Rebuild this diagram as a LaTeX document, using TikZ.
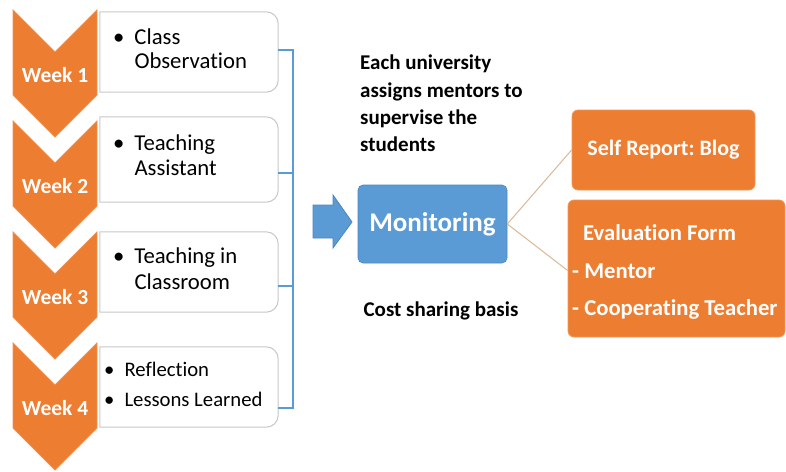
\documentclass[tikz,border=0pt]{standalone}
\usepackage{fontspec}
\setmainfont[Ligatures=NoCommon]{Carlito}
\frenchspacing
\usetikzlibrary{calc}
\definecolor{orng}{HTML}{ED7D31}
\definecolor{blu}{HTML}{5B9BD5}
\definecolor{bluedge}{HTML}{4A86BE}
\definecolor{tan}{HTML}{D9B896}
\definecolor{boxedge}{HTML}{C8C8C8}
\tikzset{
  chev/.style={fill=orng, draw=orng!85!white, line width=0.8pt},
  weektxt/.style={text=white, font=\fontsize{21.5}{24}\selectfont\bfseries, inner sep=0pt},
  boxarea/.style={minimum width=178pt, minimum height=80pt, inner sep=0pt, draw=none},
  boxline/.style={draw=boxedge, line width=1pt, fill=white},
  itemtxt/.style={anchor=west, inner sep=0pt, align=left},
  bracket/.style={draw=blu, line width=1.2pt},
  note/.style={font=\fontsize{21}{27.3}\selectfont\bfseries, inner sep=0pt, align=left},
  monbox/.style={fill=blu, draw=bluedge, line width=0.6pt, rounded corners=5pt, minimum width=149pt, minimum height=78pt, text=white, font=\fontsize{27}{30}\selectfont\bfseries},
  orbox/.style={fill=orng, draw=orng!80!white, line width=0.8pt, rounded corners=6pt, text=white, font=\fontsize{22.5}{37}\selectfont\bfseries, inner sep=0pt},
  tanline/.style={draw=tan, line width=1pt}
}
\begin{document}
\begin{tikzpicture}[x=1pt,y=-1pt]
\useasboundingbox (0,0) rectangle (786,471);
% chevrons
\foreach \t/\n in {10/1,121/2,232/3,343/4}{
  \draw[chev] (13,\t) -- (55,\t+42) -- (97,\t) -- (97,\t+85) -- (55,\t+127) -- (13,\t+85) -- cycle;
  \node[weektxt] (w\n) at (55,\t+65) {Week \n};
}
% white boxes
\node[boxarea] (b1) at (189,52) {};
\node[boxarea, minimum height=85pt] (b2) at (189,159.5) {};
\node[boxarea] (b3) at (189,272) {};
\node[boxarea] (b4) at (189,387) {};
\foreach \b in {b1,b2,b3,b4}{
  \path[boxline] (\b.north west) [rounded corners=12pt] -- (\b.north east) -- (\b.south east) [rounded corners=0pt] -- (\b.south west) -- cycle;
}
\node[itemtxt, font=\fontsize{22.7}{24}\selectfont] (t1) at (113,52) {\begin{tabular}{@{}l@{\hspace{10pt}}l@{}}\textbullet & Class\\ & Observation\end{tabular}};
\node[itemtxt, font=\fontsize{22.7}{25}\selectfont] (t2) at (113,158) {\begin{tabular}{@{}l@{\hspace{10pt}}l@{}}\textbullet & Teaching\\ & Assistant\end{tabular}};
\node[itemtxt, font=\fontsize{22.7}{26}\selectfont] (t3) at (113,271) {\begin{tabular}{@{}l@{\hspace{10pt}}l@{}}\textbullet & Teaching in\\ & Classroom\end{tabular}};
\node[itemtxt, font=\fontsize{20.7}{30}\selectfont] (t4) at (104,385) {\begin{tabular}{@{}l@{\hspace{10pt}}l@{}}\textbullet & Reflection\\ \textbullet & Lessons Learned\end{tabular}};
% bracket
\coordinate (s1) at (293,50);
\coordinate (s2) at (293,173);
\coordinate (s3) at (293,286);
\coordinate (s4) at (293,408);
\draw[bracket] (b1.east |- s1) -- (s1) -- (s4) -- (b4.east |- s4);
\draw[bracket] (b2.east |- s2) -- (s2);
\draw[bracket] (b3.east |- s3) -- (s3);
% block arrow
\draw[fill=blu, draw=bluedge, line width=0.8pt] (313,205) -- (333,205) -- (333,195) -- (352,222) -- (333,248) -- (333,238) -- (313,238) -- cycle;
% monitoring
\node[monbox] (mon) at (432.5,224) {Monitoring};
\node[note, anchor=north west] (each) at (360,55) {Each university\\assigns mentors to\\supervise the\\students};
\node[note] (cost) at (441,311) {Cost sharing basis};
% right boxes
\node[orbox, font=\fontsize{22}{26}\selectfont\bfseries, minimum width=183pt, minimum height=80pt] (self) at (663.5,150) {Self Report: Blog};
\node[orbox, minimum width=217pt, minimum height=137pt] (eval) at (676.5,268.5) {};
\node[anchor=west, inner sep=0pt, text=white, font=\fontsize{22.7}{37.5}\selectfont\bfseries, align=left] (evtxt) at (572,272) {\hspace{11pt}Evaluation Form\\- Mentor\\- Cooperating Teacher};
% connectors
\draw[tanline] (mon.east) -- (self.west);
\draw[tanline] (mon.east) -- ($(eval.west)+(0,2)$);
\end{tikzpicture}
\end{document}
